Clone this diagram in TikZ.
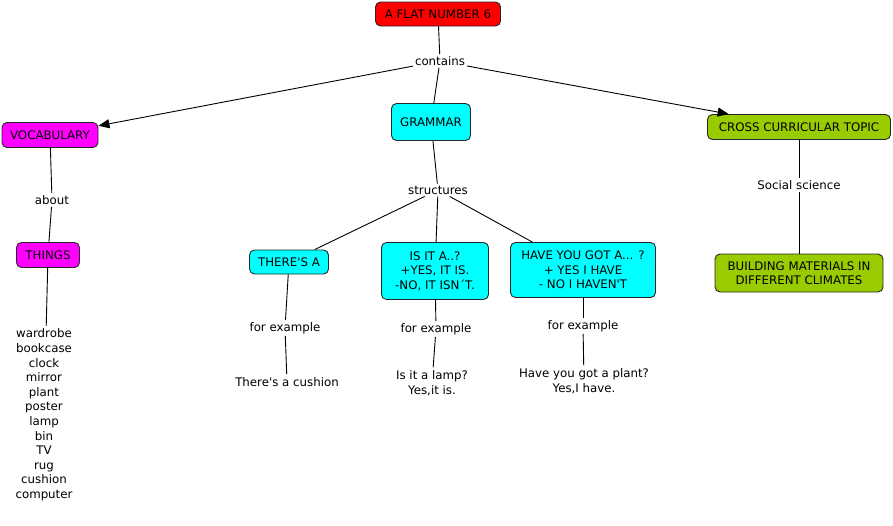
\documentclass[tikz,border=0pt]{standalone}
\usepackage{fontspec}
\newfontfamily\mapfont{DejaVu Sans}
\usetikzlibrary{arrows.meta}
\definecolor{flat red}{HTML}{FF0000}
\definecolor{vocab magenta}{HTML}{FF00FF}
\definecolor{grammar cyan}{HTML}{00FFFF}
\definecolor{topic green}{HTML}{99CC00}
\tikzset{
concept/.style = { rectangle, draw = black!85, line width = 0.9pt, rounded corners = 5pt, align = center, inner xsep = 4pt, inner ysep = 3pt, font = \mapfont\fontsize{11.8}{14.5}\selectfont },
linking/.style = { inner sep = 2pt, font = \mapfont\fontsize{11.8}{14.5}\selectfont },
example text/.style = { align = center, inner sep = 3pt, font = \mapfont\fontsize{11.8}{14.6}\selectfont },
link/.style = { draw = black, line width = 0.9pt },
arrow link/.style = { link, -{Triangle[length = 11pt, width = 9pt]} },
}

\begin{document}
\begin{tikzpicture}[x = 1pt, y = -1pt]
      \useasboundingbox (0, 0) rectangle (893, 525);
      % concepts
      \node[concept, fill = flat red, minimum width = 125pt, minimum height = 24pt] (flat) at (438, 14) {A FLAT NUMBER 6};
      \node[concept, fill = vocab magenta, minimum width = 96pt, minimum height = 25pt] (vocabulary) at (50, 135) {VOCABULARY};
      \node[concept, fill = grammar cyan, minimum width = 79pt, minimum height = 37pt] (grammar) at (431, 122) {GRAMMAR};
      \node[concept, fill = topic green, minimum width = 183pt, minimum height = 25pt] (cross) at (799, 127) {CROSS CURRICULAR TOPIC};
      \node[concept, fill = vocab magenta, minimum width = 63pt, minimum height = 25pt] (things) at (48, 255) {THINGS};
      \node[concept, fill = grammar cyan, minimum width = 79pt, minimum height = 24pt] (there) at (289, 262) {THERE'S A};
      \node[concept, fill = grammar cyan, minimum width = 107pt, minimum height = 57pt] (isit) at (435, 271) {IS IT A..?\\+YES, IT IS.\\-NO, IT ISN´T.};
      \node[concept, fill = grammar cyan, minimum width = 145pt, minimum height = 55pt] (have) at (583, 270) {HAVE YOU GOT A... ?\\+ YES I HAVE\\- NO I HAVEN'T};
      \node[concept, fill = topic green, minimum width = 168pt, minimum height = 38pt] (building) at (799, 273) {BUILDING MATERIALS IN\\DIFFERENT CLIMATES};
      % linking phrases
      \node[linking] (contains) at (440, 61) {contains};
      \node[linking] (about) at (52, 200) {about};
      \node[linking] (structures) at (438, 190) {structures};
      \node[linking] (example a) at (285, 328) {for example};
      \node[linking] (example b) at (436, 329) {for example};
      \node[linking] (example c) at (583, 326) {for example};
      \node[linking] (social) at (799, 185) {Social science};
      % examples
      \node[example text] (list) at (44, 415) {wardrobe\\bookcase\\clock\\mirror\\plant\\poster\\lamp\\bin\\TV\\rug\\cushion\\computer};
      \node[example text] (cushion) at (287, 382) {There's a cushion};
      \node[example text] (lamp) at (432, 383) {Is it a lamp?\\Yes,it is.};
      \node[example text] (plant) at (584, 381) {Have you got a plant?\\Yes,I have.};
      % connectors
      \draw[link] (flat) -- (contains);
      \draw[arrow link] (contains) -- (vocabulary);
      \draw[link] (contains) -- (grammar);
      \draw[arrow link] (contains) -- (cross);
      \draw[link] (vocabulary) -- (about);
      \draw[link] (about) -- (things);
      \draw[link] (things) -- (list);
      \draw[link] (grammar) -- (structures);
      \draw[link] (structures) -- (there);
      \draw[link] (structures) -- (isit);
      \draw[link] (structures) -- (have);
      \draw[link] (there) -- (example a);
      \draw[link] (example a) -- (cushion);
      \draw[link] (isit) -- (example b);
      \draw[link] (example b) -- (lamp);
      \draw[link] (have) -- (example c);
      \draw[link] (example c) -- (plant);
      \draw[link] (cross) -- (social);
      \draw[link] (social) -- (building);
    \end{tikzpicture}
\end{document}
